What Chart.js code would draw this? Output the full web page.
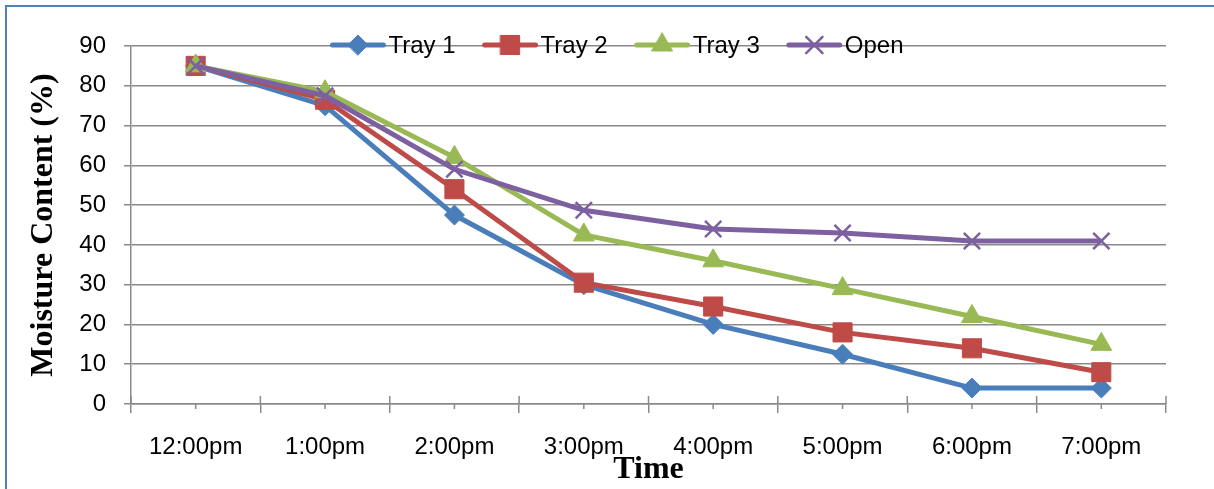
<!DOCTYPE html>
<html>
<head>
<meta charset="utf-8">
<title>Moisture Content</title>
<script src="https://cdn.jsdelivr.net/npm/chart.js@4.4.1/dist/chart.umd.min.js"></script>
<style>
  html, body { margin: 0; padding: 0; background: #fff; overflow: hidden; }
  #wrap { position: relative; width: 1214px; height: 489px; }
  #frame {
    position: absolute; left: 5px; top: 5px; width: 1240px; height: 520px;
    border-left: 2px solid #4F81BD; border-top: 2px solid #4F81BD;
    pointer-events: none;
  }
</style>
</head>
<body>
<div id="wrap">
  <canvas id="chart" width="1214" height="489"></canvas>
  <div id="frame"></div>
</div>
<script>
const times = ['12:00pm', '1:00pm', '2:00pm', '3:00pm', '4:00pm', '5:00pm', '6:00pm', '7:00pm'];
const tray1 = [85, 75, 47.5, 30, 20, 12.5, 4, 4];
const tray2 = [85, 76.5, 54, 30.5, 24.5, 18, 14, 8];
const tray3 = [85, 78.5, 62, 42.5, 36, 29, 22, 15];
const open = [85, 77.5, 59, 48.7, 44, 43, 41, 41];
const yTicks = [0, 10, 20, 30, 40, 50, 60, 70, 80, 90];

const gridColor = '#8a8a8a';
const tickFont = { family: '"Liberation Sans", Arial, sans-serif', size: 24 };
const titleFont = { family: '"Liberation Serif", "Times New Roman", serif', size: 32, weight: 'bold' };

function series(label, data, color, pointStyle, radius, order) {
  return {
    label, data, order, pointStyle,
    borderColor: color,
    backgroundColor: color,
    borderWidth: 5,
    pointRadius: radius,
    pointHoverRadius: radius,
    pointBorderWidth: pointStyle === 'crossRot' ? 2.5 : 1,
    tension: 0,
  };
}

// Excel-style axis ticks: boundary marks cross the axis, small marks sit under each category
const axisTicks = {
  id: 'axisTicks',
  afterDatasetsDraw(chart) {
    const x = chart.scales.x;
    const ctx = chart.ctx;
    const y0 = chart.chartArea.bottom;
    const half = (x.getPixelForValue(1) - x.getPixelForValue(0)) / 2;
    ctx.save();
    ctx.strokeStyle = gridColor;
    ctx.lineWidth = 1.5;
    ctx.beginPath();
    for (let i = 0; i < times.length; i++) {
      const cx = x.getPixelForValue(i);
      ctx.moveTo(cx, y0);
      ctx.lineTo(cx, y0 + 5);
    }
    for (let i = 0; i <= times.length; i++) {
      const bx = x.getPixelForValue(0) - half + i * half * 2;
      ctx.moveTo(bx, y0 - 8);
      ctx.lineTo(bx, y0);
    }
    ctx.stroke();
    ctx.restore();
  }
};

// legend with a line segment and the marker in its middle
const lineLegend = {
  id: 'lineLegend',
  afterDraw(chart) {
    const ctx = chart.ctx;
    const lineLen = 55, textGap = 3, itemGap = 27, cy = 45, centerX = 617;
    ctx.save();
    ctx.font = tickFont.size + 'px ' + tickFont.family;
    const items = chart.data.datasets.map(ds => ({ ds, w: lineLen + textGap + ctx.measureText(ds.label).width }));
    const total = items.reduce((s, it) => s + it.w, 0) + itemGap * (items.length - 1);
    let x = centerX - total / 2;
    items.forEach(({ ds, w }) => {
      ctx.strokeStyle = ds.borderColor;
      ctx.lineWidth = ds.borderWidth;
      ctx.lineCap = 'round';
      ctx.beginPath();
      ctx.moveTo(x + 2, cy);
      ctx.lineTo(x + lineLen - 2, cy);
      ctx.stroke();
      ctx.fillStyle = ds.backgroundColor;
      ctx.lineWidth = ds.pointBorderWidth;
      Chart.helpers.drawPoint(ctx, {
        pointStyle: ds.pointStyle, radius: ds.pointRadius, rotation: 0, borderWidth: ds.pointBorderWidth
      }, x + lineLen / 2, cy);
      ctx.fillStyle = '#000';
      ctx.textBaseline = 'middle';
      ctx.textAlign = 'left';
      ctx.fillText(ds.label, x + lineLen + textGap, cy + 1);
      x += w + itemGap;
    });
    ctx.restore();
  }
};

new Chart(document.getElementById('chart'), {
  type: 'line',
  data: {
    labels: times,
    datasets: [
      series('Tray 1', tray1, '#4A7EBB', 'rectRot', 10, 4),
      series('Tray 2', tray2, '#BE4B48', 'rect', 13.5, 3),
      series('Tray 3', tray3, '#98B954', 'triangle', 12, 2),
      series('Open', open, '#7D60A0', 'crossRot', 11.5, 1),
    ],
  },
  options: {
    responsive: false,
    animation: false,
    layout: { padding: { top: 46, right: 48, bottom: 0, left: 0 } },
    plugins: {
      legend: { display: false },
      tooltip: { enabled: false },
    },
    scales: {
      x: {
        offset: true,
        grid: {
          offset: true,
          drawOnChartArea: false,
          color: gridColor,
          lineWidth: 1.5,
          tickLength: 9,
        },
        border: { color: gridColor, width: 1.5 },
        ticks: { font: tickFont, color: '#000', padding: 20, maxRotation: 0, autoSkip: false },
        title: { display: true, text: 'Time', font: titleFont, color: '#000', padding: { top: 0, bottom: 0 } },
        afterFit(scale) { scale.height = 85; },
      },
      y: {
        min: 0,
        max: 90,
        afterBuildTicks(scale) { scale.ticks = yTicks.map(v => ({ value: v })); },
        grid: { color: gridColor, lineWidth: 1.5, tickLength: 7 },
        border: { color: gridColor, width: 1.5 },
        ticks: { font: tickFont, color: '#000', padding: 18 },
        title: { display: true, text: 'Moisture Content (%)', font: titleFont, color: '#000', padding: { top: 25, bottom: 0 } },
        afterFit(scale) { scale.width = 131; },
      },
    },
  },
  plugins: [axisTicks, lineLegend],
});
</script>
</body>
</html>
